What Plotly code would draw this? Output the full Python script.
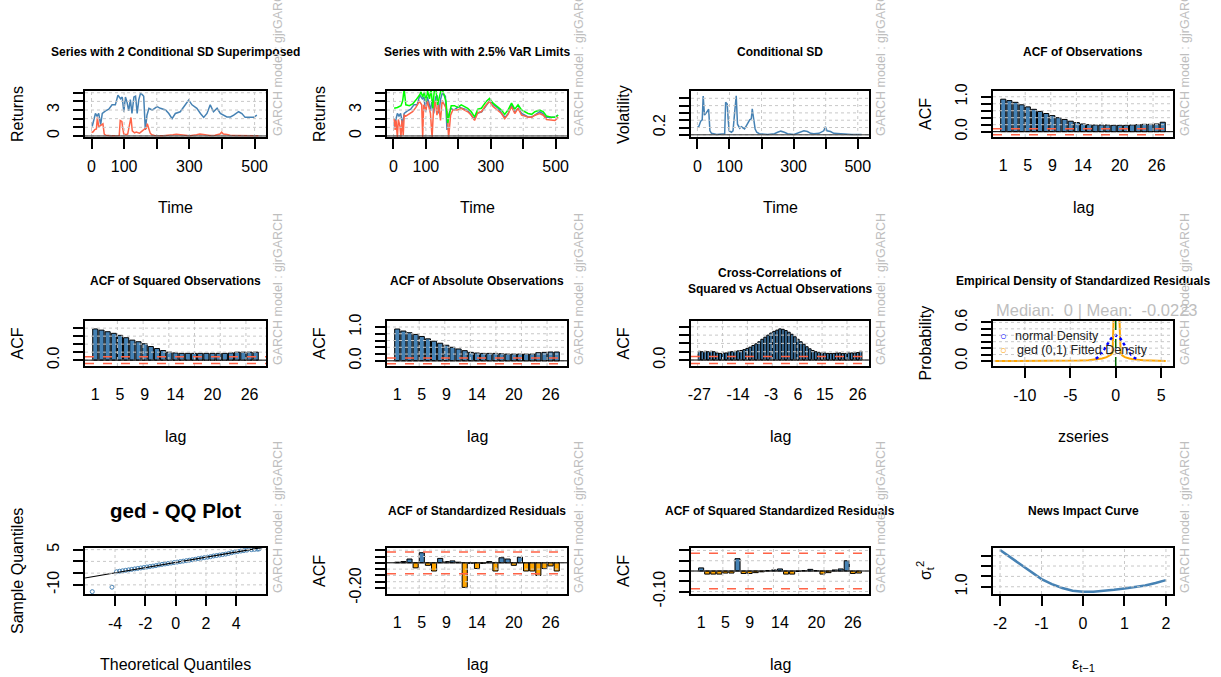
import plotly.graph_objects as go

FONT = "Liberation Sans, Arial, sans-serif"
W, H = 1221, 677

# ---------------- data ----------------
time_idx = [2, 7, 12, 17, 22, 28, 33, 43, 53, 63, 73, 81, 89, 94, 99, 104, 109, 114, 119, 124,
            130, 135, 140, 145, 150, 155, 160, 165, 170, 176, 186, 201, 211, 227, 237, 247, 257, 272, 288, 298,
            308, 323, 334, 344, 354, 364, 374, 385, 395, 405, 415, 426, 436, 451, 461, 471, 487, 497, 507]
returns = [1.1, 1.8, 2.6, 2.3, 2.6, 1.3, 2.6, 2.9, 3.1, 3.6, 3.6, 4.7, 4.3, 4.5, 2.8, 4.5, 3.9, 2.9, 4.2, 2.6,
           4.5, 4.6, 2.6, 4.2, 4.9, 4.8, 4.6, 0.7, 2.4, 3.2, 3.0, 3.4, 3.2, 3.0, 2.6, 2.0, 2.6, 2.8, 3.6, 4.15,
           3.6, 3.2, 2.6, 2.15, 2.6, 3.6, 2.8, 3.2, 2.6, 2.4, 2.2, 2.2, 2.4, 2.8, 2.6, 2.15, 2.15, 2.15, 2.4]

sigma_t = [0, 5, 10, 15, 18, 22, 26, 31, 35, 39, 44, 60, 80, 85, 88, 93, 96, 99, 106, 111,
           116, 121, 125, 132, 137, 142, 147, 152, 157, 163, 168, 171, 175, 180, 185, 193, 219, 240, 250, 260,
           271, 281, 301, 322, 332, 343, 353, 363, 379, 394, 399, 404, 415, 425, 440, 481, 512]
sigma = [0.2, 0.24, 0.37, 0.41, 1.06, 0.54, 0.58, 0.65, 0.7, 0.11, 0.04, 0.01, 0.01, 0.03, 0.89, 0.84, 0.41, 0.11, 0.07, 0.11,
         0.6, 1.07, 0.29, 0.18, 0.22, 0.2, 0.16, 0.24, 0.33, 0.41, 0.44, 0.71, 0.46, 0.16, 0.07, 0.03, 0.01, 0.03, 0.07, 0.1,
         0.07, 0.03, 0.01, 0.07, 0.11, 0.09, 0.04, 0.03, 0.04, 0.11, 0.22, 0.11, 0.09, 0.04, 0.03, 0.01, 0.01]

var_up_t = [2, 12, 23, 28, 33, 38, 49, 59, 69, 80, 85, 90, 95, 100, 105, 111, 116, 121, 126, 131,
            136, 142, 147, 152, 157, 162, 167, 173, 178, 188, 198, 209, 219, 229, 240, 250, 260, 271, 286, 296,
            307, 317, 333, 343, 353, 364, 374, 384, 395, 405, 415, 426, 436, 451, 462, 472, 488, 498, 508]
var_up = [3.2, 3.3, 3.5, 4.0, 5.4, 3.6, 3.5, 3.7, 4.15, 4.7, 5.1, 4.5, 5.1, 4.0, 5.2, 4.3, 5.4, 3.2, 5.3, 5.3,
          3.6, 4.7, 5.4, 5.2, 4.5, 4.0, 1.5, 2.7, 3.5, 3.5, 3.3, 3.6, 3.4, 3.2, 2.8, 2.2, 3.1, 3.2, 4.0, 4.35,
          3.8, 3.5, 3.0, 2.5, 3.0, 3.8, 3.1, 3.6, 3.0, 2.8, 2.6, 2.5, 2.8, 3.0, 2.8, 2.3, 2.15, 2.15, 2.4]

var_lo_t = [2, 5, 8, 12, 15, 20, 23, 26, 30, 33, 38, 49, 59, 69, 80, 87, 90, 93, 100, 105,
            114, 119, 123, 129, 134, 139, 145, 150, 157, 165, 170, 176, 183, 198, 209, 219, 229, 240, 250, 260,
            271, 286, 296, 307, 317, 333, 343, 353, 364, 374, 384, 395, 405, 415, 426, 436, 451, 462, 472, 488,
            498, 508]
var_lo = [2.0, 0.7, 1.8, -0.2, 1.9, 1.1, -0.2, 1.8, 0.1, 2.4, 2.3, 2.6, 2.8, 3.3, 4.0, 3.6, -0.2, 3.6, 3.0, 4.0,
          2.6, -0.2, 2.8, 4.1, 2.4, 3.6, 1.8, 4.1, 3.6, 3.0, -0.2, 2.4, 3.0, 3.0, 3.2, 3.0, 2.8, 2.4, 1.8, 2.7,
          2.8, 3.6, 4.0, 3.4, 3.1, 2.6, 2.0, 2.5, 3.4, 2.6, 3.2, 2.4, 2.3, 2.15, 2.15, 2.4, 2.6, 2.4, 1.9, 1.8,
          1.8, 2.15]

lags = [1, 2, 3, 4, 5, 6, 7, 8, 9, 10, 11, 12, 13, 14, 15, 16, 17, 18, 19, 20, 21, 22, 23, 24, 25, 26, 27]
acf_obs = [0.93, 0.89, 0.84, 0.77, 0.71, 0.64, 0.58, 0.52, 0.46, 0.40, 0.35, 0.30, 0.26, 0.22, 0.20,
           0.19, 0.19, 0.19, 0.18, 0.18, 0.18, 0.19, 0.20, 0.21, 0.21, 0.22, 0.27]
acf_sq = [0.78, 0.75, 0.71, 0.67, 0.62, 0.56, 0.50, 0.46, 0.41, 0.34, 0.29, 0.24, 0.20, 0.18, 0.17,
          0.17, 0.17, 0.17, 0.17, 0.17, 0.17, 0.17, 0.18, 0.20, 0.20, 0.20, 0.20]
acf_abs = [0.94, 0.88, 0.83, 0.78, 0.72, 0.65, 0.58, 0.52, 0.46, 0.40, 0.35, 0.30, 0.25, 0.23, 0.22,
           0.22, 0.22, 0.21, 0.20, 0.20, 0.20, 0.20, 0.20, 0.24, 0.25, 0.26, 0.26]
ccf_lags = [-27, -26, -25, -24, -23, -22, -21, -20, -19, -18, -17, -16, -15, -14, -13, -12, -11, -10, -9,
            -8, -7, -6, -5, -4, -3, -2, -1, 0, 1, 2, 3, 4, 5, 6, 7, 8, 9, 10, 11, 12, 13, 14, 15, 16, 17,
            18, 19, 20, 21, 22, 23, 24, 25, 26, 27]
ccf_vals = [0.21, 0.20, 0.21, 0.20, 0.21, 0.20, 0.17, 0.16, 0.17, 0.17, 0.20, 0.20, 0.21, 0.22, 0.23, 0.25, 0.28, 0.31, 0.35,
            0.39, 0.44, 0.50, 0.55, 0.60, 0.65, 0.69, 0.72, 0.75, 0.74, 0.71, 0.67, 0.62, 0.56, 0.50, 0.44, 0.38, 0.32, 0.27, 0.23,
            0.20, 0.18, 0.17, 0.17, 0.16, 0.16, 0.16, 0.17, 0.17, 0.16, 0.16, 0.17, 0.17, 0.17, 0.18, 0.21]
acf_res = [0.005, 0.01, 0.03, -0.04, 0.08, -0.02, -0.065, 0.035, 0.01, 0.015, 0.005, -0.195, -0.005, -0.045,
           -0.005, 0.01, -0.065, 0.04, 0.03, -0.02, 0.045, -0.065, -0.065, -0.1, -0.045, -0.025, -0.065]
acf_sqres = [0.015, -0.015, -0.015, -0.015, -0.01, -0.01, 0.06, -0.012, -0.012, -0.008, -0.004, 0.002, 0.005,
             0.01, -0.015, -0.015, -0.002, 0.002, 0.008, 0.002, -0.015, -0.008, 0.005, 0.01, 0.05, -0.012, -0.01]
conf_band = 0.0866

dens_x = [-13.3, -10, -7, -5, -4, -3, -2, -1.5, -1, -0.7, -0.5, -0.35, -0.28, -0.2, 0, 0.2, 0.4, 0.48, 0.55,
          0.7, 1.0, 1.5, 2, 3, 4, 5.5]
ged_y = [0.0, 0.0, 0.001, 0.003, 0.006, 0.012, 0.025, 0.04, 0.06, 0.08, 0.1, 0.13, 0.4, 0.8, 1.0, 0.85, 0.7, 0.35, 0.13,
         0.09, 0.06, 0.04, 0.025, 0.012, 0.005, 0.001]
norm_x = [-2.2, -2, -1.5, -1, -0.5, 0, 0.5, 1, 1.5, 2, 2.5]
norm_y = [0.035, 0.054, 0.13, 0.242, 0.352, 0.399, 0.352, 0.242, 0.13, 0.054, 0.018]
z_median = 0.0
z_mean = -0.0223

qq_theo = [-5.5, -4.2, -3.9, -3.7, -3.5, -3.3, -3.1, -2.9, -2.7, -2.5, -2.3, -2.1, -1.9, -1.7, -1.5, -1.3,
           -1.1, -0.9, -0.7, -0.5, -0.3, -0.1, 0.1, 0.3, 0.5, 0.7, 0.9, 1.1, 1.3, 1.5, 1.7, 1.9, 2.1, 2.3,
           2.5, 2.7, 2.9, 3.1, 3.3, 3.5, 3.7, 3.9, 4.1, 4.3, 4.5, 4.7, 5.0, 5.2, 5.4, 5.5]
qq_samp = [-12.9, -11.0, -4.4, -4.2, -4.0, -3.8, -3.6, -3.4, -3.2, -3.0, -2.8, -2.6, -2.4, -2.2, -2.0, -1.8,
           -1.5, -1.3, -1.1, -0.9, -0.7, -0.5, -0.3, -0.1, 0.1, 0.3, 0.5, 0.7, 0.9, 1.2, 1.4, 1.6, 1.8, 2.0,
           2.3, 2.5, 2.7, 2.9, 3.1, 3.4, 3.7, 4.0, 4.2, 4.4, 4.6, 4.8, 5.0, 5.1, 5.2, 5.3]
qq_slope = 1.11
qq_intercept = -0.44

nic_x = [-2, -1.75, -1.5, -1.25, -1, -0.75, -0.5, -0.25, 0, 0.25, 0.5, 0.75, 1, 1.25, 1.5, 1.75, 2]
nic_y = [2.77, 2.42, 2.06, 1.69, 1.37, 1.13, 0.94, 0.81, 0.76, 0.76, 0.79, 0.85, 0.92, 0.98, 1.06, 1.18, 1.32]

model_label = "GARCH model : gjrGARCH"

# ---------------- styling / layout ----------------
STEEL = "#4682B4"
TOMATO = "#FF6347"
ORANGE = "#FFA500"
GRIDC = "#C8C8C8"

COLS = [(85, 266), (387, 567), (691, 869), (993, 1173)]
ROWS = [(91, 137), (321, 366), (548, 594)]

fig = go.Figure()
layout = dict(width=W, height=H, autosize=False,
              margin=dict(l=0, r=0, t=0, b=0, pad=0, autoexpand=False),
              paper_bgcolor="white", plot_bgcolor="white", showlegend=False,
              font=dict(family=FONT, color="black"))
shapes = []
annotations = []


def names(k):
    s = "" if k == 1 else str(k)
    return "x" + s, "y" + s


def px2paper(px, py):
    return px / W, 1 - py / H


def set_axes(k, xr, yr, xtv, xtt, ytv, ytt, xticks=True):
    r, c = divmod(k - 1, 4)
    l, rr = COLS[c]
    t, b = ROWS[r]
    xn, yn = names(k)
    common = dict(showline=True, linecolor="black", linewidth=1.5, mirror=True, showgrid=False,
                  zeroline=False, tickcolor="black", tickwidth=1.5, ticklen=10, automargin=False,
                  tickfont=dict(family=FONT, size=16, color="black"), tickmode="array")
    layout["xaxis" + xn[1:]] = dict(domain=[l / W, rr / W], anchor=yn, range=xr, tickvals=xtv, ticktext=xtt,
                                    ticks="outside" if xticks else "",
                                    ticklabelstandoff=4 if xticks else 13, **common)
    layout["yaxis" + yn[1:]] = dict(domain=[1 - b / H, 1 - t / H], anchor=xn, range=yr, tickvals=ytv,
                                    ticktext=ytt, ticks="outside", tickangle=-90, ticklabelstandoff=8, **common)


def grid(k, xs, ys):
    xn, yn = names(k)
    for x in xs:
        shapes.append(dict(type="line", xref=xn, yref=yn + " domain", x0=x, x1=x, y0=0, y1=1,
                           line=dict(color=GRIDC, width=1, dash="3px,3px"), layer="above"))
    for y in ys:
        shapes.append(dict(type="line", xref=xn + " domain", yref=yn, x0=0, x1=1, y0=y, y1=y,
                           line=dict(color=GRIDC, width=1, dash="3px,3px"), layer="above"))


def hline(k, y, color, width=1, dash="solid"):
    xn, yn = names(k)
    shapes.append(dict(type="line", xref=xn + " domain", yref=yn, x0=0, x1=1, y0=y, y1=y,
                       line=dict(color=color, width=width, dash=dash), layer="above"))


def ann(text, px, py, size=16, angle=0, color="black", xanchor="center", yanchor="middle"):
    x, y = px2paper(px, py)
    annotations.append(dict(text=text, x=x, y=y, xref="paper", yref="paper", showarrow=False,
                            textangle=angle, xanchor=xanchor, yanchor=yanchor, borderpad=0,
                            font=dict(family=FONT, size=size, color=color)))


def panel_labels(k, title, xlab, ylab, title_size=12):
    r, c = divmod(k - 1, 4)
    l, rr = COLS[c]
    t, b = ROWS[r]
    cx = (l + rr) / 2
    title_y = [52, 281, 511][r]
    if isinstance(title, list):
        ann("<b>" + title[0] + "</b>", cx, title_y - 8, size=title_size)
        ann("<b>" + title[1] + "</b>", cx, title_y + 8, size=title_size)
    else:
        ann("<b>" + title + "</b>", cx, title_y, size=title_size)
    ann(xlab, cx, b + 70, size=16)
    ann(ylab, l - 68, (t + b) / 2, size=16, angle=-90)
    ann(model_label, rr + 12, b - 77, size=12.5, angle=-90, color="#BEBEBE")


def line(k, x, y, color, width=1.5, dash="solid"):
    xn, yn = names(k)
    fig.add_trace(go.Scatter(x=x, y=y, mode="lines", line=dict(color=color, width=width, dash=dash),
                             xaxis=xn, yaxis=yn, hoverinfo="skip"))


def bars(k, x, y, width=0.833):
    xn, yn = names(k)
    cols = [STEEL if v >= 0 else ORANGE for v in y]
    fig.add_trace(go.Bar(x=x, y=y, width=width, marker=dict(color=cols, line=dict(color="black", width=1)),
                         xaxis=xn, yaxis=yn, hoverinfo="skip"))


T_RANGE = [-20, 535]
T_TV = [0, 100, 200, 300, 400, 500]
T_TT = ["0", "100", "", "300", "", "500"]

# Panel 1
line(1, time_idx, returns, STEEL)
line(1, sigma_t, [2 * s for s in sigma], TOMATO)
set_axes(1, T_RANGE, [-0.12, 5.2], T_TV, T_TT, [0, 1, 2, 3, 4, 5], ["0", "", "", "3", "", ""])
grid(1, T_TV, [0, 1, 2, 3, 4, 5])
hline(1, 0, "#333333", 1)
panel_labels(1, "Series with 2 Conditional SD Superimposed", "Time", "Returns")

# Panel 2
line(2, time_idx, returns, STEEL)
line(2, var_lo_t, var_lo, TOMATO)
line(2, var_up_t, var_up, "#00FF00")
set_axes(2, T_RANGE, [-0.12, 5.2], T_TV, T_TT, [0, 1, 2, 3, 4, 5], ["0", "", "", "3", "", ""])
grid(2, T_TV, [0, 1, 2, 3, 4, 5])
hline(2, 0, "#333333", 1)
panel_labels(2, "Series with with 2.5% VaR Limits", "Time", "Returns")

# Panel 3
line(3, sigma_t, sigma, STEEL)
set_axes(3, T_RANGE, [-0.06, 1.2], T_TV, T_TT, [0, 0.2, 0.4, 0.6, 0.8, 1.0], ["", "0.2", "", "", "", ""])
grid(3, T_TV, [0, 0.2, 0.4, 0.6, 0.8, 1.0])
hline(3, 0, "#333333", 1)
panel_labels(3, "Conditional SD", "Time", "Volatility")

# ACF panels
LAG_RANGE = [-0.67, 28.67]
LAG_TV = [1, 5, 9, 14, 20, 26]
LAG_TT = ["1", "5", "9", "14", "20", "26"]
LAG_GRID = [4.58, 8.75, 12.92, 17.08, 21.25, 25.42]


def acf_panel(k, vals, yr, ytv, ytt, title, xlab="lag"):
    bars(k, lags, vals)
    set_axes(k, LAG_RANGE, yr, LAG_TV, LAG_TT, ytv, ytt, xticks=False)
    grid(k, LAG_GRID, ytv)
    hline(k, conf_band, TOMATO, 1.5, "dash")
    hline(k, -conf_band, TOMATO, 1.5, "dash")
    hline(k, 0, "black", 1)
    panel_labels(k, title, xlab, "ACF")


acf_panel(4, acf_obs, [-0.153, 1.165], [0, 0.2, 0.4, 0.6, 0.8, 1.0], ["0.0", "", "", "", "", "1.0"],
          "ACF of Observations")
acf_panel(5, acf_sq, [-0.146, 0.978], [0, 0.2, 0.4, 0.6, 0.8], ["0.0", "", "", "", ""],
          "ACF of Squared Observations")
acf_panel(6, acf_abs, [-0.153, 1.177], [0, 0.2, 0.4, 0.6, 0.8, 1.0], ["0.0", "", "", "", "", "1.0"],
          "ACF of Absolute Observations")

# Panel 7 cross-correlation
bars(7, ccf_lags, ccf_vals)
set_axes(7, [-29.79, 29.79], [-0.144, 0.94], [-27, -14, -3, 6, 15, 26], ["-27", "-14", "-3", "6", "15", "26"],
         [0, 0.2, 0.4, 0.6, 0.8], ["0.0", "", "", "", ""], xticks=False)
grid(7, [-27.58, -19.25, -10.92, -2.58, 5.75, 14.08, 22.42], [0, 0.2, 0.4, 0.6, 0.8])
hline(7, conf_band, TOMATO, 1.5, "dash")
hline(7, -conf_band, TOMATO, 1.5, "dash")
hline(7, 0, "black", 1)
panel_labels(7, ["Cross-Correlations of", "Squared vs Actual Observations"], "lag", "ACF")

# Panel 8 density
line(8, dens_x, ged_y, ORANGE, 2)
line(8, norm_x, norm_y, "blue", 2.5, "dot")
set_axes(8, [-13.5, 6.3], [-0.078, 0.622], [-10, -5, 0, 5], ["-10", "-5", "0", "5"],
         [0, 0.1, 0.2, 0.3, 0.4, 0.5, 0.6], ["0.0", "", "", "", "", "", "0.6"])
grid(8, [-10, -5, 0, 5], [0, 0.1, 0.2, 0.3, 0.4, 0.5, 0.6])
shapes.append(dict(type="line", xref="x8", yref="y8 domain", x0=z_median, x1=z_median, y0=0, y1=1,
                   line=dict(color="#006400", width=1.5, dash="dash"), layer="above"))
panel_labels(8, "Empirical Density of Standardized Residuals", "zseries", "Probability")
ann("Median: \u00a0%g | Mean: \u00a0%g" % (z_median, z_mean), 995, 310, size=16.5, color="#BEBEBE",
    xanchor="left")
ann("\u25cb", 1003, 336, size=11, color="blue")
ann("normal Density", 1014, 336, size=12.5, color="#222222", xanchor="left")
ann("\u25cb", 1003, 350, size=11, color=ORANGE)
ann("ged (0,1) Fitted Density", 1016, 350, size=12.5, color="#222222", xanchor="left")

# Panel 9 QQ
QQ_XR = [-5.98, 5.96]
fig.add_trace(go.Scatter(x=qq_theo, y=qq_samp, mode="markers",
                         marker=dict(symbol="circle-open", size=4, color=STEEL, line=dict(width=1)),
                         xaxis="x9", yaxis="y9", hoverinfo="skip"))
line(9, QQ_XR, [qq_slope * v + qq_intercept for v in QQ_XR], "black", 1.2)
set_axes(9, QQ_XR, [-13.9, 5.7], [-4, -2, 0, 2, 4], ["-4", "-2", "0", "2", "4"],
         [-10, -5, 0, 5], ["-10", "", "", "5"])
grid(9, [-4, -2, 0, 2, 4], [-10, -5, 0, 5])
panel_labels(9, "ged - QQ Plot", "Theoretical Quantiles", "Sample Quantiles", title_size=20.5)

# Panel 10, 11
acf_panel(10, acf_res, [-0.2475, 0.1175], [-0.2, -0.15, -0.1, -0.05, 0, 0.05, 0.1],
          ["-0.20", "", "", "", "", "", ""], "ACF of Standardized Residuals")
acf_panel(11, acf_sqres, [-0.112, 0.112], [-0.1, -0.05, 0, 0.05, 0.1], ["-0.10", "", "", "", ""],
          "ACF of Squared Standardized Residuals")

# Panel 12 news impact
line(12, nic_x, nic_y, STEEL, 2.5)
set_axes(12, [-2.17, 2.17], [0.65, 2.87], [-2, -1, 0, 1, 2], ["-2", "-1", "0", "1", "2"],
         [1.0, 1.5, 2.0, 2.5], ["1.0", "", "", ""])
grid(12, [-2, -1, 0, 1, 2], [1.0, 1.5, 2.0, 2.5])
panel_labels(12, "News Impact Curve", "\u03b5<sub>t\u22121</sub>", "\u03c3<sub>t</sub><sup>2</sup>")

layout["shapes"] = shapes
layout["annotations"] = annotations
fig.update_layout(**layout)
fig.write_html("out.html", config={"displayModeBar": False},
               post_script="document.body.style.margin='0px';document.body.style.overflow='hidden';")
